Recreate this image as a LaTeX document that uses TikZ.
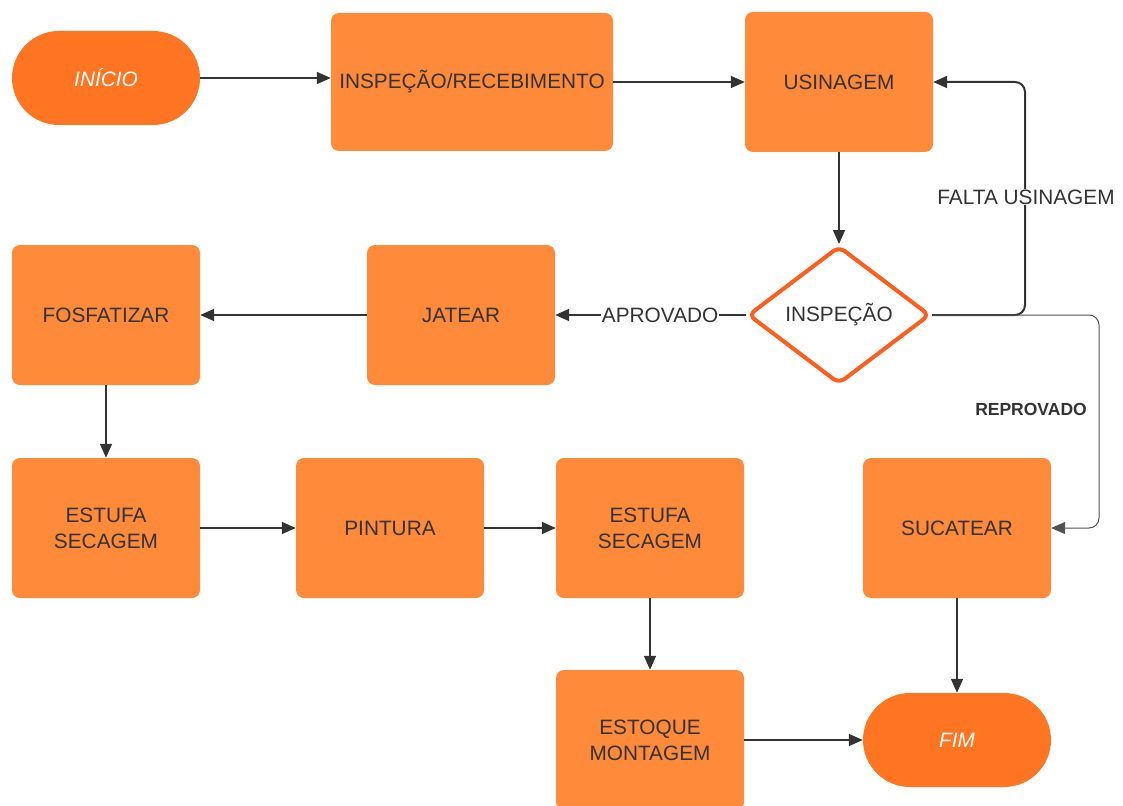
\documentclass[tikz,border=0pt]{standalone}
\usepackage{fontspec}
\setmainfont{Liberation Sans}
\usetikzlibrary{arrows.meta,shapes.geometric,calc}
\definecolor{boxorange}{HTML}{FF8A3A}
\definecolor{termorange}{HTML}{FF7522}
\definecolor{diaorange}{HTML}{FF5E1C}
\definecolor{txtgray}{HTML}{333333}
\definecolor{linegray}{HTML}{333333}
\tikzset{
  procbox/.style={rectangle, rounded corners=8pt, fill=boxorange, draw=none,
    minimum width=188pt, minimum height=140pt, text=txtgray, align=center,
    inner sep=0pt, font=\fontsize{20.8}{26}\selectfont},
  termbox/.style={rectangle, rounded corners=47pt, fill=termorange, draw=none,
    minimum width=188pt, minimum height=94pt, text=white, align=center,
    inner sep=0pt, font=\fontsize{20.8}{26}\selectfont\itshape},
  decbox/.style={diamond, draw=diaorange, line width=4pt, fill=white,
    rounded corners=7pt, minimum width=182pt, minimum height=138pt,
    inner sep=0pt, text=txtgray, font=\fontsize{20.8}{26}\selectfont},
  conn/.style={draw=linegray, line width=1.5pt, -{Triangle[length=14pt,width=12pt]}},
  lbl/.style={fill=white, text=txtgray, inner sep=1pt, font=\fontsize{20.8}{26}\selectfont},
}
\begin{document}
\begin{tikzpicture}[x=1pt,y=-1pt]
\useasboundingbox[fill=white] (0,0) rectangle (1123,805);
\node[termbox] (inicio) at (106,78) {INÍCIO};
\node[procbox, minimum width=282pt, minimum height=138pt] (insp) at (472,82) {INSPEÇÃO/RECEBIMENTO};
\node[procbox] (usin) at (839,82) {USINAGEM};
\node[decbox] (dia) at (839,315) {INSPEÇÃO};
\node[procbox] (jatear) at (461,315) {JATEAR};
\node[procbox] (fosf) at (106,315) {FOSFATIZAR};
\node[procbox] (est1) at (106,528) {ESTUFA\\SECAGEM};
\node[procbox] (pint) at (390,528) {PINTURA};
\node[procbox] (est2) at (650,528) {ESTUFA\\SECAGEM};
\node[procbox] (sucat) at (957,528) {SUCATEAR};
\node[procbox] (estoque) at (650,740) {ESTOQUE\\MONTAGEM};
\node[termbox] (fim) at (957,740) {FIM};
\coordinate (fx) at (1025,0);
\coordinate (rx) at (1099,0);

\draw[conn] (inicio.east) -- (insp.west |- inicio.east);
\draw[conn] (insp.east) -- (usin.west);
\draw[conn] (usin.south) -- (dia.north);
\draw[conn] (dia.west) -- node[lbl, pos=0.45] {APROVADO} (jatear.east);
\draw[conn] (jatear.west) -- (fosf.east);
\draw[conn] (fosf.south) -- (est1.north);
\draw[conn] (est1.east) -- (pint.west);
\draw[conn] (pint.east) -- (est2.west);
\draw[conn] (est2.south) -- (estoque.north);
\draw[conn] (estoque.east) -- (fim.west);
\draw[conn] (sucat.south) -- (fim.north);
\draw[conn, line width=2pt, rounded corners=10pt] (dia.east) -- (dia.east -| fx) -- (fx |- usin.east) -- (usin.east);
\node[lbl] (faltalbl) at (1026,197) {FALTA USINAGEM};
\draw[conn, line width=1pt, draw=linegray!85, rounded corners=10pt] (dia.east) -- (dia.east -| rx) -- (rx |- sucat.east) -- (sucat.east);
\node[text=txtgray, font=\fontsize{17.5}{21}\selectfont\bfseries] (reprlbl) at (1031,409) {REPROVADO};
\end{tikzpicture}
\end{document}
